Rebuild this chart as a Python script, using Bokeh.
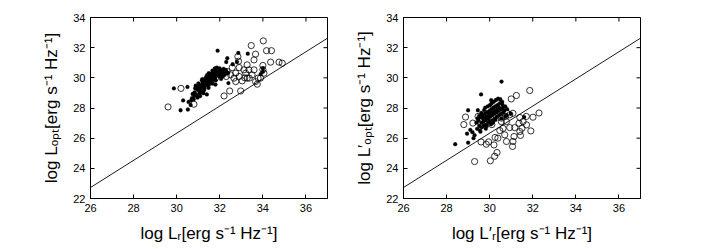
import math
from bokeh.plotting import figure
from bokeh.models import FixedTicker, Range1d
from bokeh.layouts import row
from bokeh.embed import file_html
from bokeh.resources import INLINE

# ---------------- data ----------------
x_ticks = [26, 28, 30, 32, 34, 36]
y_ticks = [22, 24, 26, 28, 30, 32, 34]
x_lim = [26, 37]
y_lim = [22, 34]

# reference relation drawn in both panels (slope, intercept)
line_slope = 0.9
line_intercept = -0.67

# Left panel: open circles
left_open_x = [29.6, 30.2, 30.8, 32.2, 32.46, 32.97, 33.46, 34.02, 34.17, 34.4,
               33.66, 33.59, 32.84, 32.87, 33.27, 34.36, 34.75, 34.9, 34.0, 34.0,
               34.05, 33.59, 33.5, 33.37, 33.66, 33.74, 33.89, 33.16, 32.9, 32.66,
               32.74, 33.04, 33.27, 32.3, 32.34, 32.58, 32.9, 33.12, 33.35, 33.2,
               32.74, 32.5, 32.11, 33.78, 31.57, 31.8, 32.03, 31.96, 31.65]
left_open_y = [28.07, 29.3, 28.25, 28.8, 29.13, 29.13, 32.14, 32.45, 31.8, 31.8,
               31.57, 31.19, 31.41, 31.1, 30.86, 31.04, 31.04, 30.97, 30.82, 30.55,
               30.31, 30.53, 30.2, 29.98, 29.75, 29.58, 29.98, 30.0, 30.09, 29.98,
               29.75, 29.8, 29.98, 30.09, 30.42, 30.68, 30.68, 30.53, 30.53, 30.31,
               30.31, 30.2, 30.2, 29.98, 29.75, 29.98, 30.2, 30.31, 30.2]

# Left panel: filled dots
left_fill_x = [29.87, 30.5, 30.3, 30.18, 30.52, 30.55, 30.65, 31.9, 32.35, 32.86,
               33.3, 32.8, 32.3, 32.6, 34.0, 34.0, 31.4, 31.8, 32.4, 33.9,
               30.68, 30.74, 30.71, 30.83, 30.79, 30.86, 30.82, 30.93, 30.95, 30.88,
               30.97, 31.04, 31.02, 31.07, 31.01, 31.09, 31.12, 31.15, 31.11, 31.17,
               31.14, 31.23, 31.21, 31.26, 31.19, 31.28, 31.24, 31.33, 31.31, 31.36,
               31.29, 31.38, 31.42, 31.44, 31.41, 31.46, 31.39, 31.48, 31.53, 31.51,
               31.56, 31.49, 31.57, 31.62, 31.64, 31.59, 31.66, 31.61, 31.68, 31.72,
               31.74, 31.69, 31.77, 31.71, 31.82, 31.84, 31.79, 31.86, 31.81, 31.87,
               31.93, 31.91, 31.96, 31.94, 32.02, 32.04, 31.99, 32.06, 32.12, 32.09,
               32.14, 32.21, 32.18, 32.23, 32.31, 32.28, 32.39]
left_fill_y = [29.3, 29.4, 28.5, 27.85, 27.9, 28.4, 28.2, 31.8, 31.3, 31.65,
               31.6, 31.05, 31.05, 30.9, 30.62, 30.4, 28.9, 29.55, 29.65, 30.25,
               28.52, 28.93, 28.66, 29.04, 28.58, 29.31, 28.81, 28.87, 29.22, 29.48,
               28.69, 29.13, 29.41, 28.97, 29.63, 28.79, 29.32, 29.54, 29.02, 29.83,
               29.19, 29.42, 29.71, 29.16, 29.92, 29.53, 28.98, 29.49, 29.84, 30.04,
               29.28, 29.62, 29.73, 29.93, 30.18, 29.47, 29.81, 29.34, 29.82, 30.12,
               29.61, 30.31, 29.94, 30.03, 30.27, 29.79, 30.48, 30.14, 29.62, 30.09,
               30.41, 29.88, 30.62, 30.22, 30.19, 30.52, 30.01, 30.68, 29.83, 30.39,
               30.28, 30.61, 30.12, 30.47, 30.41, 30.19, 30.63, 29.93, 30.33, 30.52,
               30.11, 30.42, 30.6, 30.21, 30.38, 30.51, 30.32]

# Right panel: open circles
right_open_x = [28.8, 28.88, 29.3, 30.03, 30.23, 30.34, 29.84, 29.95, 29.6, 30.2,
                30.25, 30.38, 30.62, 30.7, 30.78, 30.93, 30.78, 31.0, 31.24, 31.86,
                32.29, 32.01, 31.08, 31.4, 31.7, 31.55, 31.36, 31.71, 31.91, 31.5,
                31.16, 31.4, 31.43, 31.13, 31.06, 31.08, 30.8, 30.54, 30.47, 29.6,
                29.22, 29.46, 29.85, 30.1, 30.74, 30.93, 30.54]
right_open_y = [26.9, 27.4, 24.45, 24.5, 24.8, 25.05, 25.6, 25.75, 25.75, 25.55,
                26.05, 26.0, 26.65, 26.22, 25.78, 26.7, 27.1, 28.6, 28.83, 29.16,
                27.67, 27.39, 27.65, 27.37, 27.44, 27.1, 26.99, 26.88, 26.48, 26.66,
                26.7, 26.44, 26.18, 26.11, 25.45, 25.78, 27.66, 27.1, 26.5, 26.9,
                27.0, 27.44, 27.3, 26.9, 27.44, 27.55, 27.33]

# Right panel: filled dots
right_fill_x = [28.4, 29.0, 29.0, 29.6, 30.55, 29.45, 29.1, 29.3, 28.95, 31.6, 29.25, 29.2,
                29.42, 29.38, 29.44, 29.52, 29.48, 29.55, 29.51, 29.62, 29.58, 29.64,
                29.61, 29.57, 29.71, 29.68, 29.73, 29.69, 29.74, 29.81, 29.78, 29.83,
                29.79, 29.84, 29.82, 29.92, 29.88, 29.94, 29.91, 29.87, 29.96, 30.02,
                29.99, 30.04, 30.01, 30.06, 29.98, 30.11, 30.08, 30.13, 30.09, 30.14,
                30.12, 30.07, 30.21, 30.18, 30.23, 30.19, 30.24, 30.16, 30.32, 30.28,
                30.33, 30.29, 30.34, 30.27, 30.42, 30.38, 30.43, 30.39, 30.44, 30.52,
                30.48, 30.53, 30.49, 30.54, 30.62, 30.58, 30.63, 30.59, 30.72, 30.68,
                30.73, 30.81, 30.78, 30.98]
right_fill_y = [25.6, 25.7, 27.85, 28.9, 29.75, 27.85, 26.55, 26.2, 26.3, 27.4, 26.0, 26.4,
                26.62, 27.03, 27.31, 26.81, 27.19, 26.52, 27.48, 27.02, 27.41, 26.73,
                27.68, 26.43, 27.12, 27.52, 26.84, 27.31, 27.86, 27.22, 27.63, 26.92,
                28.02, 27.41, 26.63, 27.28, 27.72, 27.04, 28.11, 26.81, 27.53, 27.42,
                27.81, 27.13, 28.19, 26.92, 27.62, 27.51, 27.93, 27.18, 28.31, 27.02,
                27.72, 28.52, 27.62, 28.04, 27.29, 28.42, 27.83, 27.11, 27.71, 28.12,
                27.42, 28.53, 27.91, 27.22, 27.82, 28.21, 27.52, 28.62, 28.03, 27.91,
                28.33, 27.62, 28.58, 27.31, 28.02, 28.41, 27.72, 28.22, 28.11, 27.82,
                27.43, 27.92, 27.52, 27.63]

left_xlabel = "log Lᵣ[erg s⁻¹ Hz⁻¹]"
left_ylabel = "log Lₒₚₜ[erg s⁻¹ Hz⁻¹]"
right_xlabel = "log L′ᵣ[erg s⁻¹ Hz⁻¹]"
right_ylabel = "log L′ₒₚₜ[erg s⁻¹ Hz⁻¹]"

FONT = "Liberation Sans"


def style_axis(ax, ticks, tick_standoff, label_standoff):
    ax.ticker = FixedTicker(ticks=ticks)
    ax.major_tick_in = 4
    ax.major_tick_out = 0
    ax.minor_tick_line_color = None
    ax.axis_line_color = "black"
    ax.axis_line_width = 1
    ax.major_tick_line_color = "black"
    ax.major_label_text_font = FONT
    ax.major_label_text_color = "black"
    ax.major_label_text_font_size = "11px"
    ax.major_label_standoff = tick_standoff
    ax.axis_label_text_font = FONT
    ax.axis_label_text_font_style = "normal"
    ax.axis_label_text_color = "black"
    ax.axis_label_text_font_size = "17px"
    ax.axis_label_standoff = label_standoff


def make_panel(ox, oy, fx, fy, xlabel, ylabel, bl, br):
    p = figure(frame_width=237, frame_height=181,
               x_range=Range1d(*x_lim), y_range=Range1d(*y_lim),
               output_backend="svg", toolbar_location=None,
               min_border_left=bl, min_border_right=br,
               min_border_top=17, min_border_bottom=49)
    p.grid.visible = False
    p.outline_line_color = "black"
    p.outline_line_alpha = 1
    p.background_fill_color = "white"
    p.border_fill_color = "white"
    p.xaxis.axis_label = xlabel
    p.yaxis.axis_label = ylabel
    style_axis(p.xaxis[0], x_ticks, 5, 9)
    style_axis(p.yaxis[0], y_ticks, 5, 9)

    # inward tick marks on the top and right edges of the box (clipped to frame)
    p.scatter(x_ticks, [y_lim[1]] * len(x_ticks), marker="dash", size=8,
              angle=math.pi / 2, line_color="black", line_width=1)
    p.scatter([x_lim[1]] * len(y_ticks), y_ticks, marker="dash", size=8,
              line_color="black", line_width=1)

    lx = list(x_lim)
    ly = [line_slope * v + line_intercept for v in lx]
    p.line(lx, ly, line_color="black", line_width=0.9)

    p.scatter(fx, fy, marker="circle", size=3.8, fill_color="black",
              line_color="black", line_width=0.3)
    p.scatter(ox, oy, marker="circle", size=6.2, fill_color=None,
              line_color="black", line_width=0.8)
    return p


p1 = make_panel(left_open_x, left_open_y, left_fill_x, left_fill_y,
                left_xlabel, left_ylabel, 90, 25)
p2 = make_panel(right_open_x, right_open_y, right_fill_x, right_fill_y,
                right_xlabel, right_ylabel, 50, 59)

layout = row(p1, p2)
open("out.html", "w").write(file_html(layout, INLINE))
